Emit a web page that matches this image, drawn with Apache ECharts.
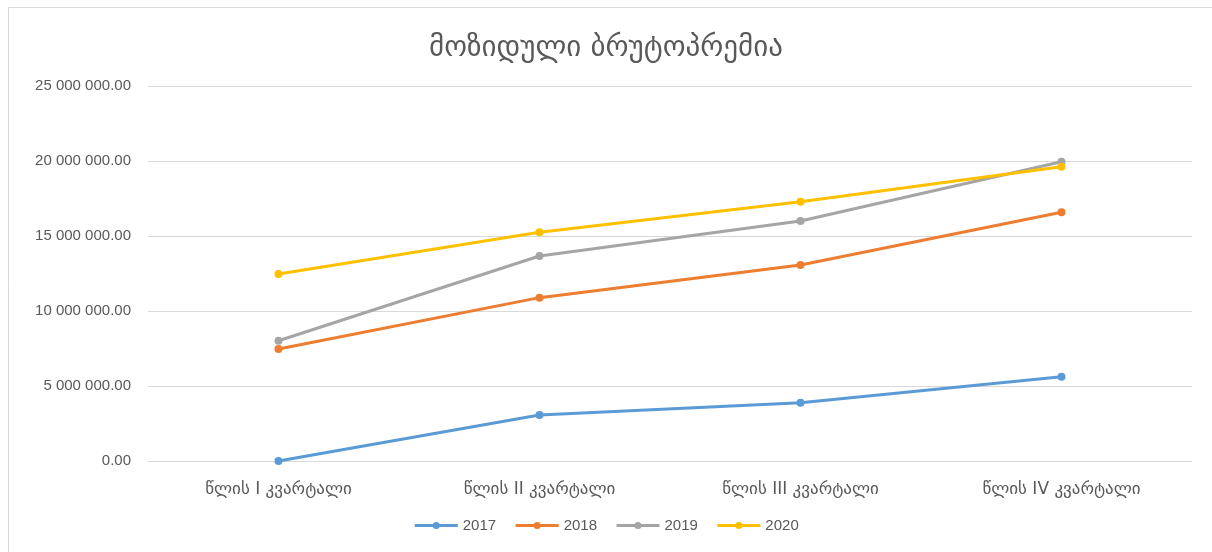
<!DOCTYPE html>
<html>
<head>
<meta charset="utf-8">
<script src="https://cdn.jsdelivr.net/npm/echarts@6/dist/echarts.min.js"></script>
<style>html,body{margin:0;padding:0;background:#fff;}#c{width:1212px;height:552px;}</style>
</head>
<body>
<div id="c"></div>
<script>
const categories = ['წლის I კვარტალი', 'წლის II კვარტალი', 'წლის III კვარტალი', 'წლის IV კვარტალი'];
const s2017 = [0, 3070000, 3880000, 5620000];
const s2018 = [7470000, 10890000, 13070000, 16580000];
const s2019 = [8020000, 13670000, 16000000, 19950000];
const s2020 = [12470000, 15250000, 17290000, 19620000];
const seriesNames = ['2017', '2018', '2019', '2020'];
const colors = ['#5b9bd5', '#ed7d31', '#a5a5a5', '#ffc000'];
const yTicks = [0, 5000000, 10000000, 15000000, 20000000, 25000000];

const font = '"Liberation Sans", "DejaVu Sans", sans-serif';
const geo = '"DejaVu Sans", sans-serif';
function fmt(v) {
  const s = Math.round(v).toString().replace(/\B(?=(\d{3})+(?!\d))/g, ' ');
  return s + '.00';
}
const chart = echarts.init(document.getElementById('c'));
const data = [s2017, s2018, s2019, s2020];
chart.setOption({
  animation: false,
  backgroundColor: '#fff',
  graphic: [{type: 'rect', shape: {x: 8.5, y: 7.5, width: 1220, height: 560}, style: {fill: 'none', stroke: '#d9d9d9', lineWidth: 1}, silent: true}],
  title: {
    text: 'მოზიდული ბრუტოპრემია', left: 'center', top: 29,
    textStyle: {fontFamily: geo, fontSize: 29, fontWeight: 'normal', color: '#595959'}
  },
  legend: {
    data: seriesNames, bottom: 14, left: 'center', itemWidth: 43, itemHeight: 9, itemGap: 18,
    lineStyle: {width: 3},
    textStyle: {fontFamily: font, fontSize: 15, color: '#595959'}
  },
  grid: {left: 148, right: 20, top: 86, bottom: 91},
  xAxis: {
    type: 'category', data: categories, boundaryGap: true,
    axisLine: {show: true, lineStyle: {color: '#d9d9d9'}}, axisTick: {show: false},
    axisLabel: {margin: 20, color: '#595959', fontSize: 17, fontFamily: geo}
  },
  yAxis: {
    type: 'value', min: yTicks[0], max: yTicks[yTicks.length - 1], interval: 5000000,
    axisLine: {show: false}, axisTick: {show: false},
    splitLine: {lineStyle: {color: '#d9d9d9', width: 1}},
    axisLabel: {margin: 17, color: '#595959', fontSize: 15, fontFamily: font, formatter: fmt}
  },
  series: seriesNames.map((n, i) => ({
    name: n, type: 'line', data: data[i], color: colors[i],
    symbol: 'circle', symbolSize: 8,
    lineStyle: {width: 3, color: colors[i]},
    itemStyle: {color: colors[i]}
  }))
});
</script>
</body>
</html>
